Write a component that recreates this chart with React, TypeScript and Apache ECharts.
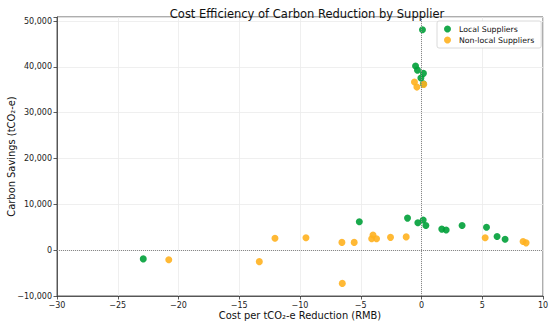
import React, { useEffect, useRef } from "react";
import * as echarts from "echarts";

const localX = [0.08, -0.49, -0.33, 0.16, -0.05, 0.15, -5.12, -1.15, -0.3, 0.14, 0.36, 1.67, 2.03, 3.34, 5.35, 6.22, 6.88, -22.9];
const localY = [48100, 40200, 39300, 38600, 37600, 36300, 6200, 7000, 6000, 6600, 5400, 4600, 4400, 5400, 5000, 3000, 2400, -1900];

const nonLocalX = [-0.58, -0.38, 0.19, -9.51, -6.55, -5.54, -3.99, -4.1, -3.7, -2.55, -1.26, 5.24, 8.36, 8.61, -20.8, -13.35, -12.06, -6.52];
const nonLocalY = [36700, 35600, 36200, 2700, 1700, 1700, 3300, 2500, 2500, 2800, 2900, 2700, 1900, 1600, -2100, -2500, 2600, -7250];

const xTicks = [-30, -25, -20, -15, -10, -5, 0, 5, 10];
const yTicks = [-10000, 0, 10000, 20000, 30000, 40000, 50000];

const FONT = "DejaVu Sans";
const fmtNum = (v: number) => (v < 0 ? "\u2212" : "") + Math.abs(v).toLocaleString("en-US");

export default function App() {
  const ref = useRef<HTMLDivElement>(null);
  useEffect(() => {
    if (!ref.current) return;
    const chart = echarts.init(ref.current, undefined, { renderer: "svg" });
    const axisCommon = {
      axisLine: { show: true, onZero: false, lineStyle: { color: "#333", width: 0.8 } },
      axisTick: { show: true, inside: false, length: 3.5, lineStyle: { color: "#333", width: 0.8 } },
      splitLine: { show: true, lineStyle: { color: "#ebebeb", width: 0.8 } },
      nameTextStyle: { fontFamily: FONT, fontSize: 9.9, color: "#111" },
      nameMoveOverlap: false,
    };
    chart.setOption({
      animation: false,
      textStyle: { fontFamily: FONT },
      title: {
        text: "Cost Efficiency of Carbon Reduction by Supplier",
        left: 302,
        textAlign: "center",
        top: 3,
        textStyle: { fontFamily: FONT, fontSize: 11.5, fontWeight: "normal", color: "#111" },
      },
      grid: {
        left: 57, right: 7, top: 17, bottom: 29,
        outerBoundsMode: "none",
        containLabel: false,
        show: true, borderColor: "#333", borderWidth: 0.8, backgroundColor: "transparent",
      },
      legend: {
        left: 437,
        top: 21,
        orient: "vertical",
        icon: "circle",
        itemWidth: 7,
        itemHeight: 7,
        itemGap: 3,
        padding: [4, 7, 4, 7],
        backgroundColor: "#fff",
        borderColor: "#d0d0d0",
        borderWidth: 0.8,
        borderRadius: 2,
        textStyle: { fontFamily: FONT, fontSize: 7.8, color: "#111", padding: [0, 0, 0, 3] },
        data: ["Local Suppliers", "Non-local Suppliers"],
      },
      xAxis: {
        type: "value",
        min: xTicks[0],
        max: xTicks[xTicks.length - 1],
        interval: 5,
        name: "Cost per tCO\u2082-e Reduction (RMB)",
        nameLocation: "middle",
        nameGap: 14,
        ...axisCommon,
        axisLabel: { fontFamily: FONT, fontSize: 8, color: "#222", margin: 5, formatter: (v: number) => (xTicks.includes(v) ? fmtNum(v) : "") },
      },
      yAxis: {
        type: "value",
        min: yTicks[0],
        max: 50900,
        interval: 10000,
        name: "Carbon Savings (tCO\u2082-e)",
        nameLocation: "middle",
        nameGap: 41,
        ...axisCommon,
        axisLabel: { fontFamily: FONT, fontSize: 8, color: "#222", margin: 5, formatter: (v: number) => (yTicks.includes(v) ? fmtNum(v) : "") },
      },
      series: [
        {
          name: "Local Suppliers",
          type: "scatter",
          symbolSize: 7,
          itemStyle: { color: "#00a038", opacity: 0.9 },
          data: localX.map((x, i) => [x, localY[i]]),
          z: 3,
          markLine: {
            silent: true,
            symbol: "none",
            label: { show: false },
            lineStyle: { color: "#888", type: "dotted", width: 1 },
            data: [{ xAxis: 0 }, { yAxis: 0 }],
          },
        },
        {
          name: "Non-local Suppliers",
          type: "scatter",
          symbolSize: 7,
          itemStyle: { color: "#ffb11f", opacity: 0.9 },
          data: nonLocalX.map((x, i) => [x, nonLocalY[i]]),
          z: 4,
        },
      ],
    });
    return () => chart.dispose();
  }, []);
  return <div ref={ref} style={{ width: 550, height: 325, position: "fixed", left: 0, top: 0, background: "#fff" }} />;
}
